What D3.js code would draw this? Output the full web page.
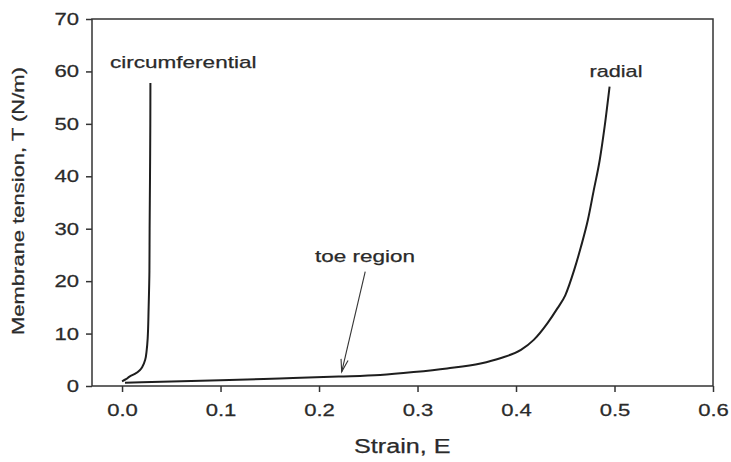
<!DOCTYPE html>
<html>
<head>
<meta charset="utf-8">
<script src="https://cdn.jsdelivr.net/npm/d3@7"></script>
<style>
  body { margin: 0; background: #fff; }
  svg { display: block; font-family: "Liberation Sans", Arial, sans-serif; }
  .frame { fill: none; stroke: #333; stroke-width: 1.5px; }
  .curve { fill: none; stroke: #1e1e1e; stroke-width: 2px; stroke-linejoin: round; }
  .arrow { fill: none; stroke: #333; stroke-width: 1.1px; }
  .axis path, .axis line { stroke: #333; stroke-width: 1.5px; }
  .axis text { font-size: 17px; fill: #2a2a2a; stroke: #2a2a2a; stroke-width: 0.25px; }
  .note { font-size: 17px; fill: #2a2a2a; stroke: #2a2a2a; stroke-width: 0.25px; }
</style>
</head>
<body>
<svg width="731" height="462"></svg>
<script>
var width = 731,
    height = 462;

var margin = {top: 19, right: 18, bottom: 76, left: 92};

// strain E, tension T (N/m)
var circStrain = [0.000, 0.004, 0.0076, 0.013, 0.018, 0.021, 0.0235, 0.025, 0.026, 0.027, 0.0278, 0.028, 0.0284, 0.0287, 0.0288];
var circTension = [0.9, 1.3, 1.8, 2.3, 3.0, 3.8, 5.0, 6.8, 9.0, 15, 22, 30, 40, 50, 57.8];

var radStrain = [0.003, 0.02, 0.05, 0.10, 0.16, 0.22, 0.262, 0.296, 0.33, 0.364, 0.384, 0.405, 0.418, 0.432, 0.442, 0.45, 0.459, 0.466, 0.473, 0.479, 0.485, 0.49, 0.495];
var radTension = [0.6, 0.7, 0.85, 1.1, 1.45, 1.8, 2.1, 2.65, 3.35, 4.3, 5.3, 6.9, 8.8, 12.0, 14.8, 17.3, 22.1, 26.6, 31.7, 37.4, 43.1, 49.5, 57.1];

var xTicks = [0, 0.1, 0.2, 0.3, 0.4, 0.5, 0.6];
var yTicks = [0, 10, 20, 30, 40, 50, 60, 70];

// arrow for "toe region": [strain, tension] from tail to head
var arrowTail = [0.2469, 21.8],
    arrowHead = [0.2230, 2.7];

var x = d3.scaleLinear()
    .domain([-0.0305, 0.6])
    .range([margin.left, width - margin.right]);

var y = d3.scaleLinear()
    .domain([0, 70])
    .range([height - margin.bottom, margin.top]);

var svg = d3.select("svg");

// x axis
var gx = svg.append("g")
    .attr("class", "axis")
    .attr("transform", "translate(0," + y(0) + ")")
    .call(d3.axisBottom(x).tickValues(xTicks).tickSize(6).tickPadding(12)
      .tickFormat(d3.format(".1f")).tickSizeOuter(0));
gx.select(".domain").remove();
gx.selectAll("text").attr("transform", "scale(1.3,1)");

// y axis
var gy = svg.append("g")
    .attr("class", "axis")
    .attr("transform", "translate(" + x.range()[0] + ",0)")
    .call(d3.axisLeft(y).tickValues(yTicks).tickSize(6).tickSizeOuter(0));
gy.select(".domain").remove();
gy.selectAll("text").attr("x", -10).attr("transform", "scale(1.3,1)");

// box
svg.append("rect")
    .attr("class", "frame")
    .attr("x", x.range()[0])
    .attr("y", y.range()[1])
    .attr("width", x.range()[1] - x.range()[0])
    .attr("height", y.range()[0] - y.range()[1]);

var circLine = d3.line()
    .x(function(d) { return x(d[0]); })
    .y(function(d) { return y(d[1]); })
    .curve(d3.curveMonotoneY);

var radLine = d3.line()
    .x(function(d) { return x(d[0]); })
    .y(function(d) { return y(d[1]); })
    .curve(d3.curveMonotoneX);

svg.append("path")
    .datum(d3.zip(circStrain, circTension))
    .attr("class", "curve")
    .attr("d", circLine);

svg.append("path")
    .datum(d3.zip(radStrain, radTension))
    .attr("class", "curve")
    .attr("d", radLine);

// arrow
var ax0 = x(arrowTail[0]), ay0 = y(arrowTail[1]),
    ax1 = x(arrowHead[0]), ay1 = y(arrowHead[1]);
var ang = Math.atan2(ay1 - ay0, ax1 - ax0),
    headLen = 13, spread = 0.28;
svg.append("line")
    .attr("class", "arrow")
    .attr("x1", ax0).attr("y1", ay0)
    .attr("x2", ax1).attr("y2", ay1);
svg.append("path")
    .attr("class", "arrow")
    .attr("d", "M" + (ax1 - headLen * Math.cos(ang - spread)) + "," + (ay1 - headLen * Math.sin(ang - spread)) +
      "L" + ax1 + "," + ay1 +
      "L" + (ax1 - headLen * Math.cos(ang + spread)) + "," + (ay1 - headLen * Math.sin(ang + spread)));

// labels
function label(txt, px, py, len, size, rot) {
  var t = svg.append("text")
      .attr("class", "note")
      .attr("transform", "translate(" + px + "," + py + ")" + (rot ? " rotate(" + rot + ")" : ""))
      .attr("textLength", len)
      .attr("lengthAdjust", "spacingAndGlyphs")
      .text(txt);
  if (size) t.style("font-size", size + "px");
  return t;
}

label("circumferential", 110, 68, 146.5);
label("radial", 589.5, 77, 53);
label("toe region", 315, 261.5, 100);
label("Strain, E", 354, 453, 96.5, 20);
label("Membrane tension, T (N/m)", 23.5, 335, 268, 16.5, -90);
</script>
</body>
</html>
